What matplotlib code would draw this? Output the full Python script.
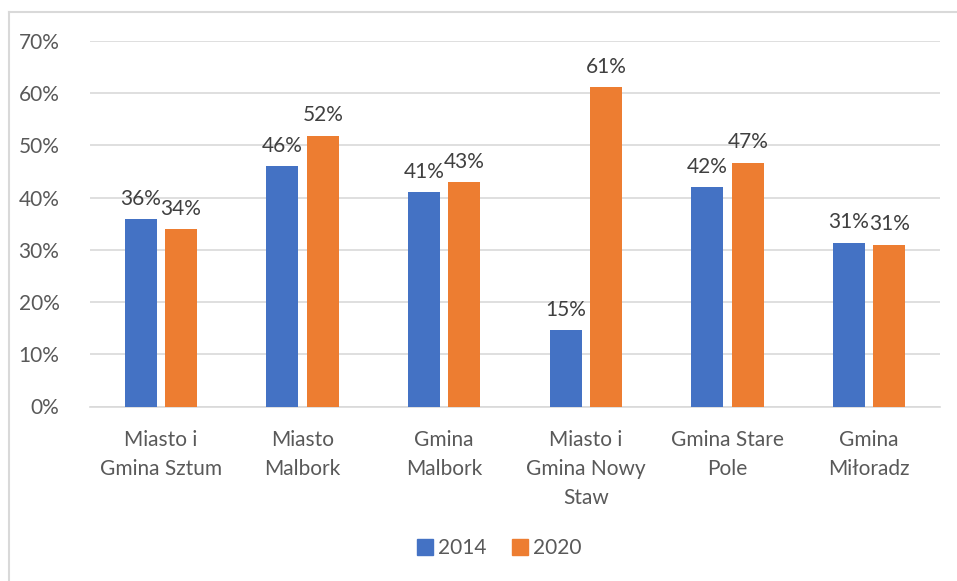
import matplotlib
matplotlib.use('Agg')
import matplotlib.pyplot as plt
from matplotlib.lines import Line2D
import numpy as np

plt.rcParams['font.family'] = ['Lato', 'DejaVu Sans']

categories = ['Miasto i\nGmina Sztum', 'Miasto\nMalbork', 'Gmina\nMalbork',
              'Miasto i\nGmina Nowy\nStaw', 'Gmina Stare\nPole', 'Gmina\nMiłoradz']
years = ['2014', '2020']
vals_2014 = [35.9, 46.0, 41.0, 14.6, 42.0, 31.4]
vals_2020 = [34.0, 51.9, 43.0, 61.1, 46.7, 31.0]
colors = ['#4472C4', '#ED7D31']

fs = 15

fig = plt.figure(figsize=(9.57, 5.81), dpi=100)
ax = fig.add_axes([90 / 957, 1 - 406.5 / 581, 850 / 957, 365.5 / 581])

x = np.arange(len(categories))
w = 0.226
off = 0.143
for vals, c, d in zip([vals_2014, vals_2020], colors, [-off, off]):
    bars = ax.bar(x + d, vals, width=w, color=c, zorder=3)
    for b, v in zip(bars, vals):
        ax.annotate(f'{v:.0f}%', (b.get_x() + b.get_width() / 2, v),
                    xytext=(0, 7.5), textcoords='offset points',
                    ha='center', va='bottom', fontsize=fs, color='#404040')

ax.set_xlim(-0.5, 5.5)
ax.set_ylim(0, 70)
ax.set_yticks(range(0, 71, 10))
ax.set_yticklabels([f'{t}%' for t in range(0, 71, 10)])
ax.yaxis.grid(True, color='#D9D9D9', linewidth=1.2, zorder=0)
ax.set_axisbelow(True)
for s in ['top', 'right', 'left']:
    ax.spines[s].set_visible(False)
ax.spines['bottom'].set_color('#D9D9D9')
ax.spines['bottom'].set_linewidth(1.2)
ax.tick_params(axis='both', length=0, labelsize=fs, labelcolor='#595959')
ax.tick_params(axis='y', pad=22)
ax.tick_params(axis='x', pad=17)
ax.set_xticks(x)
ax.set_xticklabels(categories, linespacing=1.55)

handles = [Line2D([], [], marker='s', linestyle='none', markersize=11,
                  color=c) for c in colors]
fig.legend(handles, years, loc='center', bbox_to_anchor=(497 / 957, 1 - 548 / 581),
           ncol=2, frameon=False, fontsize=fs, labelcolor='#595959',
           handletextpad=0.05, columnspacing=1.0, handlelength=1.2)

# outer frame (top and left edges only visible)
fig.add_artist(Line2D([8.5 / 957, 8.5 / 957], [0, 1 - 11.5 / 581],
                      transform=fig.transFigure, color='#D9D9D9', linewidth=1.5))
fig.add_artist(Line2D([8.5 / 957, 1], [1 - 11.5 / 581, 1 - 11.5 / 581],
                      transform=fig.transFigure, color='#D9D9D9', linewidth=1.5))

fig.savefig('out.png', dpi=100, facecolor='white')
plt.close(fig)
